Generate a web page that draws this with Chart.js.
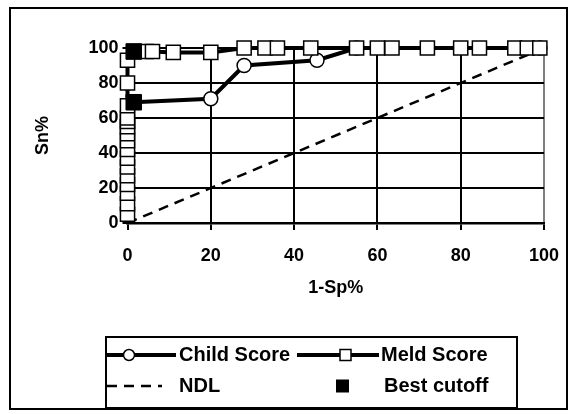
<!DOCTYPE html>
<html><head><meta charset="utf-8">
<script src="https://cdn.jsdelivr.net/npm/chart.js@4.4.0/dist/chart.umd.min.js"></script>
<style>html,body{margin:0;padding:0;background:#fff}#wrap{position:relative;width:572px;height:414px}</style>
</head><body><div id="wrap"><canvas id="c" width="572" height="414"></canvas></div>
<script>
// ---- data ----
const tickValues = [0, 20, 40, 60, 80, 100];
const childX = [1.5, 20, 28, 45.5, 55, 99];
const childY = [69, 71, 90, 93, 100, 100];
const meldX = [0,0,0,0,0,0,0,0,0,0,0,0,0,0,0,0,1.5,4.5,6,11,20,28,33,36,44,55,60,63.5,72,80,84.5,93,96,99];
const meldY = [5,11,17,22,27,32,37,42,47,51,55,58,60,67,80,93,98,98,98,97.5,97.5,100,100,100,100,100,100,100,100,100,100,100,100,100];
const ndlX = [0, 100];
const ndlY = [0, 100];
const cutX = [1.5, 1.5];
const cutY = [98, 69];
const legendLabels = ['Child Score', 'Meld Score', 'NDL', 'Best cutoff'];

const pts = (xs, ys) => xs.map((x, i) => ({x: x, y: ys[i]}));
const FONT = 'Liberation Sans, Arial, sans-serif';

const framePlugin = {
  id: 'frame',
  afterDraw(chart) {
    const ctx = chart.ctx;
    ctx.save();
    ctx.strokeStyle = '#000';
    ctx.lineWidth = 2;
    ctx.strokeRect(10, 8, 557, 401);
    // legend box
    ctx.strokeRect(106, 337, 411, 71);
    const r1 = 355, r2 = 386;
    ctx.font = 'bold 20px ' + FONT;
    ctx.fillStyle = '#000';
    ctx.textBaseline = 'middle';
    ctx.textAlign = 'left';
    // child sample
    ctx.lineWidth = 4;
    ctx.beginPath(); ctx.moveTo(107, r1); ctx.lineTo(176, r1); ctx.stroke();
    ctx.lineWidth = 1.5; ctx.fillStyle = '#fff';
    ctx.beginPath(); ctx.arc(129, r1, 5.5, 0, Math.PI * 2); ctx.fill(); ctx.stroke();
    ctx.fillStyle = '#000';
    ctx.fillText(legendLabels[0], 179, r1);
    // meld sample
    ctx.lineWidth = 4;
    ctx.beginPath(); ctx.moveTo(297, r1); ctx.lineTo(379, r1); ctx.stroke();
    ctx.lineWidth = 1.5; ctx.fillStyle = '#fff';
    ctx.fillRect(340, r1 - 5.5, 11, 11); ctx.strokeRect(340, r1 - 5.5, 11, 11);
    ctx.fillStyle = '#000';
    ctx.fillText(legendLabels[1], 381, r1);
    // NDL sample
    ctx.lineWidth = 2.5; ctx.setLineDash([10, 7]);
    ctx.beginPath(); ctx.moveTo(107, r2); ctx.lineTo(162, r2); ctx.stroke();
    ctx.setLineDash([]);
    ctx.fillText(legendLabels[2], 179, r2);
    // best cutoff
    ctx.fillRect(336, r2 - 6.5, 13, 13);
    ctx.fillText(legendLabels[3], 384, r2);
    ctx.restore();
  }
};

new Chart(document.getElementById('c'), {
  type: 'scatter',
  data: {
    datasets: [
      {label: legendLabels[3], data: pts(cutX, cutY), showLine: false, pointStyle: 'rect', pointRadius: 11,
       backgroundColor: '#000', borderColor: '#000', pointBorderWidth: 1, clip: false},
      {label: legendLabels[1], data: pts(meldX, meldY), showLine: true, tension: 0, borderColor: '#000', borderWidth: 4,
       pointStyle: 'rect', pointRadius: 10, pointBackgroundColor: '#fff', pointBorderColor: '#000', pointBorderWidth: 1.5, clip: false},
      {label: legendLabels[0], data: pts(childX, childY), showLine: true, tension: 0, borderColor: '#000', borderWidth: 4,
       pointStyle: 'circle', pointRadius: 7, pointBackgroundColor: '#fff', pointBorderColor: '#000', pointBorderWidth: 1.5, clip: false},
      {label: legendLabels[2], data: pts(ndlX, ndlY), showLine: true, tension: 0, borderColor: '#000', borderWidth: 2.5,
       borderDash: [10, 7], pointRadius: 0, clip: false}
    ]
  },
  options: {
    responsive: false, animation: false, devicePixelRatio: 1,
    layout: {autoPadding: false, padding: {top: 48, right: 28, bottom: 115, left: 0}},
    plugins: {legend: {display: false}, tooltip: {enabled: false}},
    scales: {
      x: {
        type: 'linear', min: 0, max: 100,
        afterFit(s) { s.height = 76; s.paddingLeft = 0; s.paddingRight = 0; },
        afterBuildTicks(s) { s.ticks = tickValues.map(v => ({value: v})); },
        ticks: {color: '#000', font: {family: FONT, size: 18, weight: 'bold'}, padding: 15, maxRotation: 0},
        grid: {color: c => (c.tick && c.tick.value === 100) ? '#808080' : '#000', lineWidth: 2, tickLength: 7, tickColor: '#000', tickWidth: 2},
        border: {display: true, color: '#000', width: 2.5},
        title: {display: true, text: '1-Sp%', color: '#000', font: {family: FONT, size: 18, weight: 'bold'}, padding: {top: 0, bottom: 0}}
      },
      y: {
        type: 'linear', min: 0, max: 100,
        afterFit(s) { s.width = 127.5; s.paddingTop = 0; s.paddingBottom = 0; },
        afterBuildTicks(s) { s.ticks = tickValues.map(v => ({value: v})); },
        ticks: {color: '#000', font: {family: FONT, size: 18, weight: 'bold'}, padding: 4},
        grid: {color: '#000', lineWidth: 2, tickLength: 5, tickColor: '#000', tickWidth: 2},
        border: {display: true, color: '#000', width: 2.5},
        title: {display: true, text: 'Sn%', color: '#000', font: {family: FONT, size: 18, weight: 'bold'}, padding: {top: 32, bottom: 0}}
      }
    }
  },
  plugins: [framePlugin]
});
</script></body></html>
